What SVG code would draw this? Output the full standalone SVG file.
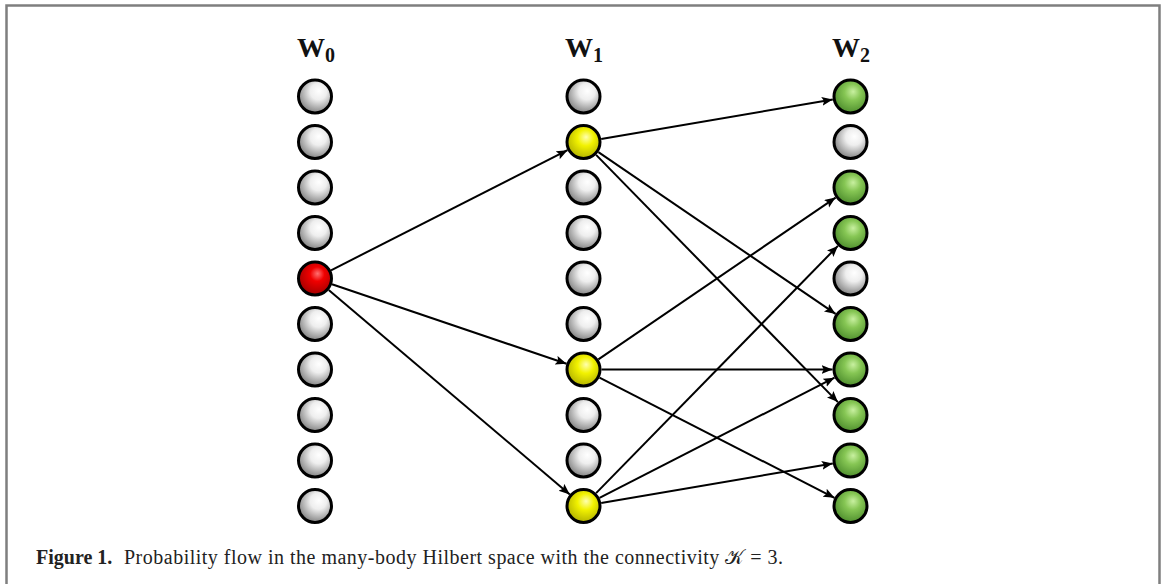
<svg xmlns="http://www.w3.org/2000/svg" width="1163" height="584" viewBox="0 0 1163 584">
<style>
.hdr{font-family:"Liberation Serif","DejaVu Serif",serif;font-weight:bold;font-size:28px;fill:#111}
.cap{font-family:"Liberation Serif","DejaVu Serif",serif;font-size:20px;fill:#222}
.edge{stroke:#000;stroke-width:2;fill:none;marker-end:url(#arr)}
.node{stroke:#000;stroke-width:3}
.w{fill:url(#gW)}.r{fill:url(#gR)}.y{fill:url(#gY)}.g{fill:url(#gG)}
</style>
<defs>
<marker id="arr" markerUnits="userSpaceOnUse" markerWidth="13" markerHeight="11" refX="11" refY="4.5" orient="auto">
<path d="M0,0 L11,4.5 L0,9 L2.2,4.5 z" fill="#000"/>
</marker>
<radialGradient id="gW" cx="0.58" cy="0.38" r="0.62" fx="0.62" fy="0.33">
<stop offset="0" stop-color="#ffffff"/><stop offset="0.4" stop-color="#eeeeee"/><stop offset="1" stop-color="#858585"/>
</radialGradient>
<radialGradient id="gR" cx="0.55" cy="0.4" r="0.62" fx="0.58" fy="0.35">
<stop offset="0" stop-color="#ff7070"/><stop offset="0.35" stop-color="#f00000"/><stop offset="1" stop-color="#a00000"/>
</radialGradient>
<radialGradient id="gY" cx="0.55" cy="0.4" r="0.62" fx="0.58" fy="0.35">
<stop offset="0" stop-color="#ffffb0"/><stop offset="0.4" stop-color="#f2f200"/><stop offset="1" stop-color="#b0b000"/>
</radialGradient>
<radialGradient id="gG" cx="0.55" cy="0.4" r="0.62" fx="0.58" fy="0.35">
<stop offset="0" stop-color="#c8f0a0"/><stop offset="0.4" stop-color="#86c654"/><stop offset="1" stop-color="#4c8c2c"/>
</radialGradient>
</defs>
<rect x="0" y="0" width="1163" height="584" fill="#fff"/>
<path d="M6.5,590 V5.5 H1159.5 V590" fill="none" stroke="#7f7f7f" stroke-width="2.5"/>

<g id="headers">
<text class="hdr" x="316" y="57" text-anchor="middle">W<tspan font-size="20" dy="5">0</tspan></text>
<text class="hdr" x="584" y="57" text-anchor="middle">W<tspan font-size="20" dy="5">1</tspan></text>
<text class="hdr" x="851" y="57" text-anchor="middle">W<tspan font-size="20" dy="5">2</tspan></text>
</g>

<g id="connectors">
<line class="edge" x1="331" y1="270.3" x2="567.5" y2="150.2"/>
<line class="edge" x1="332" y1="284.3" x2="566.5" y2="363.7"/>
<line class="edge" x1="328.7" y1="290.1" x2="569.8" y2="494.4"/>
<line class="edge" x1="601.2" y1="139" x2="832.8" y2="99.5"/>
<line class="edge" x1="598.4" y1="152.1" x2="835.6" y2="313.9"/>
<line class="edge" x1="596.1" y1="154.9" x2="837.9" y2="402.1"/>
<line class="edge" x1="598.4" y1="359.4" x2="835.6" y2="197.6"/>
<line class="edge" x1="601.5" y1="369.5" x2="832.5" y2="369.5"/>
<line class="edge" x1="599.5" y1="377.7" x2="834.5" y2="497.8"/>
<line class="edge" x1="596.1" y1="493.1" x2="837.9" y2="245.9"/>
<line class="edge" x1="599.5" y1="497.8" x2="834.5" y2="377.7"/>
<line class="edge" x1="601.2" y1="503" x2="832.8" y2="463.5"/>
</g>

<g id="col0">
<g id="n0-0"><circle class="node w" cx="315" cy="96.5" r="16.5"/></g>
<g id="n0-1"><circle class="node w" cx="315" cy="142" r="16.5"/></g>
<g id="n0-2"><circle class="node w" cx="315" cy="187.5" r="16.5"/></g>
<g id="n0-3"><circle class="node w" cx="315" cy="233" r="16.5"/></g>
<g id="n0-4"><circle class="node r" cx="315" cy="278.5" r="16.5"/></g>
<g id="n0-5"><circle class="node w" cx="315" cy="324" r="16.5"/></g>
<g id="n0-6"><circle class="node w" cx="315" cy="369.5" r="16.5"/></g>
<g id="n0-7"><circle class="node w" cx="315" cy="415" r="16.5"/></g>
<g id="n0-8"><circle class="node w" cx="315" cy="460.5" r="16.5"/></g>
<g id="n0-9"><circle class="node w" cx="315" cy="506" r="16.5"/></g>
</g>
<g id="col1">
<g id="n1-0"><circle class="node w" cx="583.5" cy="96.5" r="16.5"/></g>
<g id="n1-1"><circle class="node y" cx="583.5" cy="142" r="16.5"/></g>
<g id="n1-2"><circle class="node w" cx="583.5" cy="187.5" r="16.5"/></g>
<g id="n1-3"><circle class="node w" cx="583.5" cy="233" r="16.5"/></g>
<g id="n1-4"><circle class="node w" cx="583.5" cy="278.5" r="16.5"/></g>
<g id="n1-5"><circle class="node w" cx="583.5" cy="324" r="16.5"/></g>
<g id="n1-6"><circle class="node y" cx="583.5" cy="369.5" r="16.5"/></g>
<g id="n1-7"><circle class="node w" cx="583.5" cy="415" r="16.5"/></g>
<g id="n1-8"><circle class="node w" cx="583.5" cy="460.5" r="16.5"/></g>
<g id="n1-9"><circle class="node y" cx="583.5" cy="506" r="16.5"/></g>
</g>
<g id="col2">
<g id="n2-0"><circle class="node g" cx="850.5" cy="96.5" r="16.5"/></g>
<g id="n2-1"><circle class="node w" cx="850.5" cy="142" r="16.5"/></g>
<g id="n2-2"><circle class="node g" cx="850.5" cy="187.5" r="16.5"/></g>
<g id="n2-3"><circle class="node g" cx="850.5" cy="233" r="16.5"/></g>
<g id="n2-4"><circle class="node w" cx="850.5" cy="278.5" r="16.5"/></g>
<g id="n2-5"><circle class="node g" cx="850.5" cy="324" r="16.5"/></g>
<g id="n2-6"><circle class="node g" cx="850.5" cy="369.5" r="16.5"/></g>
<g id="n2-7"><circle class="node g" cx="850.5" cy="415" r="16.5"/></g>
<g id="n2-8"><circle class="node g" cx="850.5" cy="460.5" r="16.5"/></g>
<g id="n2-9"><circle class="node g" cx="850.5" cy="506" r="16.5"/></g>
</g>

<g id="caption">
<text class="cap" x="36" y="564" font-weight="bold">Figure 1.</text>
<text class="cap" x="124" y="564" textLength="659" lengthAdjust="spacing">Probability flow in the many-body Hilbert space with the connectivity 𝒦 = 3.</text>
</g>
</svg>
